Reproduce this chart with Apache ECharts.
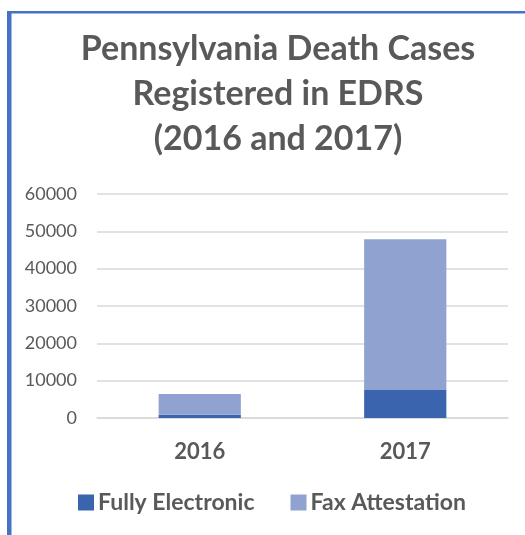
<!DOCTYPE html>
<html>
<head>
<meta charset="utf-8">
<script src="https://cdn.jsdelivr.net/npm/echarts@6/dist/echarts.min.js"></script>
<style>html,body{margin:0;padding:0;background:#fff;}#c{width:525px;height:535px;}</style>
</head>
<body>
<div id="c"></div>
<script>
const categories = ['2016', '2017'];
const fullyElectronic = [900, 7500];
const faxAttestation = [5550, 40400];
const yTicks = [0, 10000, 20000, 30000, 40000, 50000, 60000];

const chart = echarts.init(document.getElementById('c'));
const FONT = 'Lato, "Open Sans", sans-serif';
chart.setOption({
  animation: false,
  backgroundColor: '#fff',
  title: {
    text: 'Pennsylvania Death Cases\nRegistered in EDRS\n(2016 and 2017)',
    left: 273, top: 22, textAlign: 'center',
    textStyle: { fontFamily: FONT, fontSize: 34, fontWeight: 'bold', color: '#595959', lineHeight: 45 }
  },
  legend: {
    bottom: 16, left: 73, itemGap: 36, itemWidth: 16, itemHeight: 16,
    icon: 'rect',
    textStyle: { fontFamily: FONT, fontSize: 23, fontWeight: 'bold', color: '#595959', padding: [0, 0, 0, -1] },
    data: ['Fully Electronic', 'Fax Attestation']
  },
  grid: { left: 97, right: 17, top: 194, bottom: 117, containLabel: false },
  xAxis: {
    type: 'category', data: categories,
    axisLine: { show: true, lineStyle: { color: '#d9d9d9', width: 1.5 } },
    axisTick: { show: false },
    axisLabel: { fontFamily: FONT, fontSize: 22, fontWeight: 'bold', color: '#595959', margin: 23 }
  },
  yAxis: {
    type: 'value', min: 0, max: 60000, interval: 10000,
    axisLine: { show: false }, axisTick: { show: false },
    splitLine: { lineStyle: { color: '#d9d9d9', width: 1.5 } },
    axisLabel: { fontFamily: FONT, fontSize: 18, color: '#595959', margin: 20,
      formatter: v => yTicks.includes(v) ? String(v) : '' }
  },
  series: [
    { name: 'Fully Electronic', type: 'bar', stack: 't', data: fullyElectronic, barWidth: '40%',
      itemStyle: { color: '#3A64AD' } },
    { name: 'Fax Attestation', type: 'bar', stack: 't', data: faxAttestation, barWidth: '40%',
      itemStyle: { color: '#8FA2D0' } }
  ],
  graphic: [
    { type: 'rect', shape: { x: 7, y: 11, width: 530, height: 2.5 }, style: { fill: '#4472C4' }, silent: true },
    { type: 'rect', shape: { x: 7, y: 11, width: 4.5, height: 540 }, style: { fill: '#4472C4' }, silent: true }
  ]
});
</script>
</body>
</html>
